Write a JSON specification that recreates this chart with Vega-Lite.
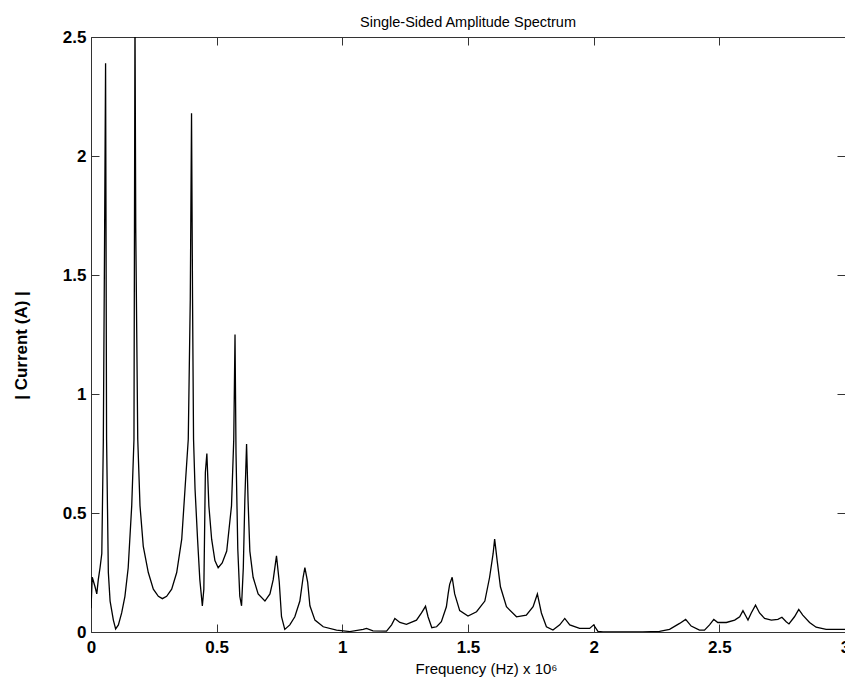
{
  "$schema": "https://vega.github.io/schema/vega-lite/v6.json",
  "width": 754,
  "height": 595,
  "autosize": {"type": "none"},
  "padding": {"left": 91, "top": 37, "right": 0, "bottom": 52},
  "background": "white",
  "title": {
    "text": "Single-Sided Amplitude Spectrum",
    "font": "Liberation Sans",
    "fontSize": 14.5,
    "fontWeight": "normal",
    "color": "black",
    "anchor": "middle",
    "baseline": "alphabetic",
    "offset": 13,
    "dy": 26
  },
  "config": {
    "view": {"stroke": null},
    "axis": {
      "grid": false,
      "domainColor": "#333333",
      "domainWidth": 1,
      "tickColor": "#333333",
      "tickWidth": 1,
      "tickSize": -8,
      "labelFont": "Liberation Sans",
      "labelFontSize": 17,
      "labelFontWeight": "bold",
      "labelColor": "black",
      "titleFont": "Liberation Sans",
      "titleColor": "black"
    }
  },
  "data": {
    "values": [
      {"f": 0.000, "amp": 0.10},
      {"f": 0.005, "amp": 0.23},
      {"f": 0.016, "amp": 0.19},
      {"f": 0.023, "amp": 0.16},
      {"f": 0.029, "amp": 0.22},
      {"f": 0.036, "amp": 0.27},
      {"f": 0.043, "amp": 0.33},
      {"f": 0.049, "amp": 0.80},
      {"f": 0.054, "amp": 1.65},
      {"f": 0.058, "amp": 2.39},
      {"f": 0.062, "amp": 0.81},
      {"f": 0.069, "amp": 0.25},
      {"f": 0.076, "amp": 0.13},
      {"f": 0.089, "amp": 0.05},
      {"f": 0.098, "amp": 0.013},
      {"f": 0.109, "amp": 0.03},
      {"f": 0.122, "amp": 0.08},
      {"f": 0.135, "amp": 0.15},
      {"f": 0.148, "amp": 0.27},
      {"f": 0.162, "amp": 0.53},
      {"f": 0.171, "amp": 0.81},
      {"f": 0.173, "amp": 1.70},
      {"f": 0.175, "amp": 2.60},
      {"f": 0.178, "amp": 1.70},
      {"f": 0.186, "amp": 0.81},
      {"f": 0.195, "amp": 0.53},
      {"f": 0.208, "amp": 0.36},
      {"f": 0.228, "amp": 0.25},
      {"f": 0.248, "amp": 0.18},
      {"f": 0.268, "amp": 0.15},
      {"f": 0.284, "amp": 0.14},
      {"f": 0.301, "amp": 0.15},
      {"f": 0.321, "amp": 0.18},
      {"f": 0.341, "amp": 0.25},
      {"f": 0.361, "amp": 0.39},
      {"f": 0.374, "amp": 0.60},
      {"f": 0.387, "amp": 0.81},
      {"f": 0.395, "amp": 1.40},
      {"f": 0.400, "amp": 2.18},
      {"f": 0.404, "amp": 1.40},
      {"f": 0.408, "amp": 0.81},
      {"f": 0.414, "amp": 0.60},
      {"f": 0.424, "amp": 0.39},
      {"f": 0.433, "amp": 0.22},
      {"f": 0.443, "amp": 0.11},
      {"f": 0.449, "amp": 0.18},
      {"f": 0.455, "amp": 0.67},
      {"f": 0.461, "amp": 0.75},
      {"f": 0.469, "amp": 0.53},
      {"f": 0.480, "amp": 0.39},
      {"f": 0.493, "amp": 0.30},
      {"f": 0.506, "amp": 0.27},
      {"f": 0.522, "amp": 0.29},
      {"f": 0.540, "amp": 0.34},
      {"f": 0.559, "amp": 0.53},
      {"f": 0.568, "amp": 0.81},
      {"f": 0.573, "amp": 1.25},
      {"f": 0.577, "amp": 0.75},
      {"f": 0.584, "amp": 0.35},
      {"f": 0.592, "amp": 0.15},
      {"f": 0.599, "amp": 0.11},
      {"f": 0.606, "amp": 0.27},
      {"f": 0.612, "amp": 0.55},
      {"f": 0.619, "amp": 0.79},
      {"f": 0.625, "amp": 0.55},
      {"f": 0.632, "amp": 0.34},
      {"f": 0.645, "amp": 0.23},
      {"f": 0.665, "amp": 0.16},
      {"f": 0.692, "amp": 0.13},
      {"f": 0.712, "amp": 0.16},
      {"f": 0.725, "amp": 0.22},
      {"f": 0.738, "amp": 0.32},
      {"f": 0.749, "amp": 0.21},
      {"f": 0.758, "amp": 0.064},
      {"f": 0.771, "amp": 0.011},
      {"f": 0.791, "amp": 0.03},
      {"f": 0.811, "amp": 0.064},
      {"f": 0.831, "amp": 0.13},
      {"f": 0.844, "amp": 0.23},
      {"f": 0.851, "amp": 0.27},
      {"f": 0.862, "amp": 0.21},
      {"f": 0.871, "amp": 0.11},
      {"f": 0.891, "amp": 0.05},
      {"f": 0.924, "amp": 0.022},
      {"f": 0.977, "amp": 0.008},
      {"f": 1.030, "amp": 0.002},
      {"f": 1.083, "amp": 0.011},
      {"f": 1.096, "amp": 0.015},
      {"f": 1.122, "amp": 0.005},
      {"f": 1.176, "amp": 0.004},
      {"f": 1.196, "amp": 0.03},
      {"f": 1.209, "amp": 0.057},
      {"f": 1.229, "amp": 0.04},
      {"f": 1.255, "amp": 0.032},
      {"f": 1.295, "amp": 0.05},
      {"f": 1.315, "amp": 0.08},
      {"f": 1.331, "amp": 0.108},
      {"f": 1.341, "amp": 0.064},
      {"f": 1.356, "amp": 0.018},
      {"f": 1.375, "amp": 0.022},
      {"f": 1.394, "amp": 0.043},
      {"f": 1.414, "amp": 0.106},
      {"f": 1.421, "amp": 0.16},
      {"f": 1.427, "amp": 0.20},
      {"f": 1.437, "amp": 0.23},
      {"f": 1.447, "amp": 0.16},
      {"f": 1.467, "amp": 0.09},
      {"f": 1.500, "amp": 0.067},
      {"f": 1.534, "amp": 0.085},
      {"f": 1.567, "amp": 0.13},
      {"f": 1.586, "amp": 0.23},
      {"f": 1.600, "amp": 0.33},
      {"f": 1.606, "amp": 0.39},
      {"f": 1.616, "amp": 0.30},
      {"f": 1.629, "amp": 0.19},
      {"f": 1.653, "amp": 0.106},
      {"f": 1.693, "amp": 0.064},
      {"f": 1.732, "amp": 0.071},
      {"f": 1.759, "amp": 0.106},
      {"f": 1.776, "amp": 0.16},
      {"f": 1.792, "amp": 0.08},
      {"f": 1.812, "amp": 0.022},
      {"f": 1.838, "amp": 0.008},
      {"f": 1.865, "amp": 0.03},
      {"f": 1.885, "amp": 0.057},
      {"f": 1.905, "amp": 0.03},
      {"f": 1.944, "amp": 0.015},
      {"f": 1.984, "amp": 0.015},
      {"f": 2.000, "amp": 0.03},
      {"f": 2.017, "amp": 0.003},
      {"f": 2.037, "amp": 0.0},
      {"f": 2.076, "amp": 0.0},
      {"f": 2.195, "amp": 0.0},
      {"f": 2.262, "amp": 0.003},
      {"f": 2.302, "amp": 0.011},
      {"f": 2.342, "amp": 0.036},
      {"f": 2.366, "amp": 0.053},
      {"f": 2.388, "amp": 0.025},
      {"f": 2.421, "amp": 0.008},
      {"f": 2.441, "amp": 0.008},
      {"f": 2.461, "amp": 0.03},
      {"f": 2.478, "amp": 0.053},
      {"f": 2.494, "amp": 0.04},
      {"f": 2.528, "amp": 0.04},
      {"f": 2.561, "amp": 0.05},
      {"f": 2.581, "amp": 0.064},
      {"f": 2.594, "amp": 0.09},
      {"f": 2.607, "amp": 0.064},
      {"f": 2.614, "amp": 0.05},
      {"f": 2.627, "amp": 0.08},
      {"f": 2.644, "amp": 0.113},
      {"f": 2.660, "amp": 0.08},
      {"f": 2.680, "amp": 0.057},
      {"f": 2.707, "amp": 0.05},
      {"f": 2.733, "amp": 0.053},
      {"f": 2.749, "amp": 0.062},
      {"f": 2.766, "amp": 0.043},
      {"f": 2.777, "amp": 0.034},
      {"f": 2.799, "amp": 0.064},
      {"f": 2.816, "amp": 0.095},
      {"f": 2.832, "amp": 0.071},
      {"f": 2.859, "amp": 0.04},
      {"f": 2.885, "amp": 0.02},
      {"f": 2.925, "amp": 0.011},
      {"f": 2.991, "amp": 0.011},
      {"f": 3.000, "amp": 0.011}
    ]
  },
  "layer": [
    {
      "mark": {"type": "line", "color": "black", "strokeWidth": 1.3, "clip": true},
      "encoding": {
        "x": {
          "field": "f",
          "type": "quantitative",
          "scale": {"domain": [0, 3], "nice": false, "zero": false},
          "axis": {
            "orient": "bottom",
            "values": [0, 0.5, 1, 1.5, 2, 2.5, 3],
            "format": "~g",
            "labelPadding": 15,
            "labelFlush": false,
            "labelOverlap": false,
            "title": "Frequency (Hz)  x 10⁶",
            "titleFontSize": 15,
            "titleFontWeight": "normal",
            "titleX": 395,
            "titleY": 41,
            "titleBaseline": "alphabetic",
            "titleAnchor": "middle"
          }
        },
        "y": {
          "field": "amp",
          "type": "quantitative",
          "scale": {"domain": [0, 2.5], "nice": false},
          "axis": {
            "orient": "left",
            "values": [0, 0.5, 1, 1.5, 2, 2.5],
            "format": "~g",
            "labelPadding": 13,
            "labelFlush": false,
            "labelOverlap": false,
            "title": "| Current (A) |",
            "titleFontSize": 17,
            "titleFontWeight": "bold",
            "titleX": -70,
            "titleY": 308,
            "titleAngle": -90,
            "titleBaseline": "middle",
            "titleAlign": "center"
          }
        }
      }
    },
    {
      "mark": {"type": "line", "opacity": 0, "clip": true},
      "encoding": {
        "x": {
          "field": "f",
          "type": "quantitative",
          "axis": {
            "orient": "top",
            "values": [0, 0.5, 1, 1.5, 2, 2.5, 3],
            "labels": false,
            "title": null
          }
        },
        "y": {
          "field": "amp",
          "type": "quantitative",
          "axis": {
            "orient": "right",
            "values": [0, 0.5, 1, 1.5, 2, 2.5],
            "labels": false,
            "title": null
          }
        }
      }
    }
  ],
  "resolve": {"axis": {"x": "independent", "y": "independent"}}
}
